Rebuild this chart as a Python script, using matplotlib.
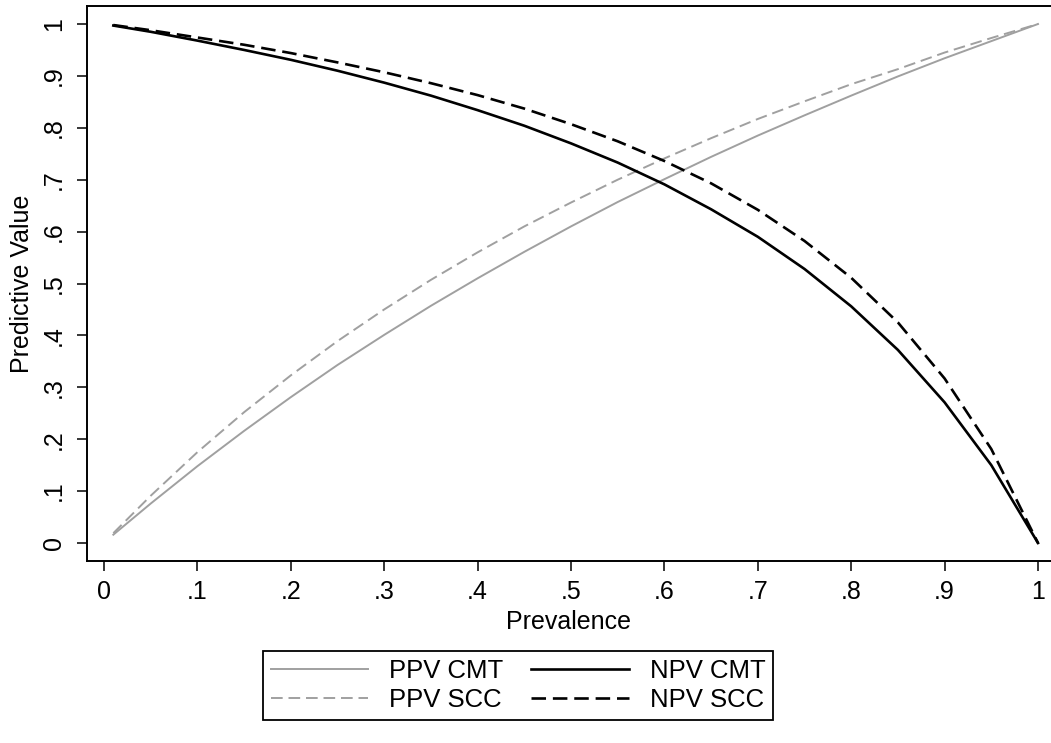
import matplotlib
matplotlib.use("Agg")
import matplotlib.pyplot as plt

plt.rcParams['font.family'] = ['Liberation Sans', 'DejaVu Sans']

# Prevalence grid and values
prevalence = [0.01, 0.05, 0.10, 0.15, 0.20, 0.25, 0.30, 0.35, 0.40, 0.45, 0.50,
              0.55, 0.60, 0.65, 0.70, 0.75, 0.80, 0.85, 0.90, 0.95, 1.00]

ppv_cmt = [0.016, 0.076, 0.148, 0.216, 0.281, 0.343, 0.401, 0.457, 0.510, 0.561, 0.610,
           0.657, 0.701, 0.744, 0.785, 0.824, 0.862, 0.899, 0.934, 0.967, 1.000]
npv_cmt = [0.997, 0.985, 0.968, 0.950, 0.931, 0.910, 0.887, 0.862, 0.834, 0.804, 0.770,
           0.733, 0.691, 0.643, 0.590, 0.528, 0.456, 0.372, 0.271, 0.150, 0.000]
ppv_scc = [0.019, 0.091, 0.175, 0.252, 0.323, 0.389, 0.450, 0.507, 0.560, 0.610, 0.656,
           0.700, 0.741, 0.780, 0.817, 0.851, 0.884, 0.913, 0.945, 0.973, 1.000]
npv_scc = [0.998, 0.988, 0.974, 0.960, 0.944, 0.926, 0.907, 0.886, 0.863, 0.837, 0.807,
           0.774, 0.736, 0.693, 0.642, 0.582, 0.511, 0.425, 0.317, 0.181, 0.000]

x_ticks = [0, .1, .2, .3, .4, .5, .6, .7, .8, .9, 1]
x_ticklabels = ['0', '.1', '.2', '.3', '.4', '.5', '.6', '.7', '.8', '.9', '1']
y_ticks = [0, .1, .2, .3, .4, .5, .6, .7, .8, .9, 1]
y_ticklabels = ['0', '.1', '.2', '.3', '.4', '.5', '.6', '.7', '.8', '.9', '1']

W, H = 1051, 743
fig = plt.figure(figsize=(W / 100, H / 100), dpi=100)
ax = fig.add_axes([87 / W, 1 - 561 / H, (W - 87) / W, (561 - 6) / H])

gray = '#a0a0a0'
l1, = ax.plot(prevalence, ppv_cmt, color=gray, lw=1.4, label='PPV CMT')
l2, = ax.plot(prevalence, ppv_scc, color=gray, lw=1.4, linestyle=(0, (6, 3)), label='PPV SCC')
l3, = ax.plot(prevalence, npv_cmt, color='black', lw=1.9, label='NPV CMT')
l4, = ax.plot(prevalence, npv_scc, color='black', lw=1.9, linestyle=(0, (5.5, 2.6)), label='NPV SCC')

ax.set_xlim((87 - 104) / 934, (W - 104) / 934)
ax.set_ylim((543 - 561) / 519, (543 - 6) / 519)

ax.set_xticks(x_ticks)
ax.set_xticklabels(x_ticklabels)
ax.set_yticks(y_ticks)
ax.set_yticklabels(y_ticklabels, rotation=90, va='center')

ax.tick_params(axis='both', direction='out', length=7, width=1.1, labelsize=18, color='black')
ax.tick_params(axis='x', pad=7)
ax.tick_params(axis='y', pad=8)

for s in ['left', 'bottom', 'top']:
    ax.spines[s].set_linewidth(1.4)
    ax.spines[s].set_color('black')
ax.spines['right'].set_visible(False)

ax.set_xlabel('Prevalence', fontsize=18, labelpad=4)
ax.set_ylabel('Predictive Value', fontsize=18, labelpad=6)

leg = fig.legend(handles=[l1, l2, l3, l4], ncol=2,
                 loc='upper left', bbox_to_anchor=(263 / W, 1 - 651 / H),
                 borderaxespad=0.0,
                 frameon=True, fancybox=False, edgecolor='black', framealpha=1,
                 fontsize=18.5, handlelength=3.8, handletextpad=0.8,
                 columnspacing=1.1, borderpad=0.3, labelspacing=0.2)
leg.get_frame().set_linewidth(1.3)

fig.savefig('out.png', dpi=100)
